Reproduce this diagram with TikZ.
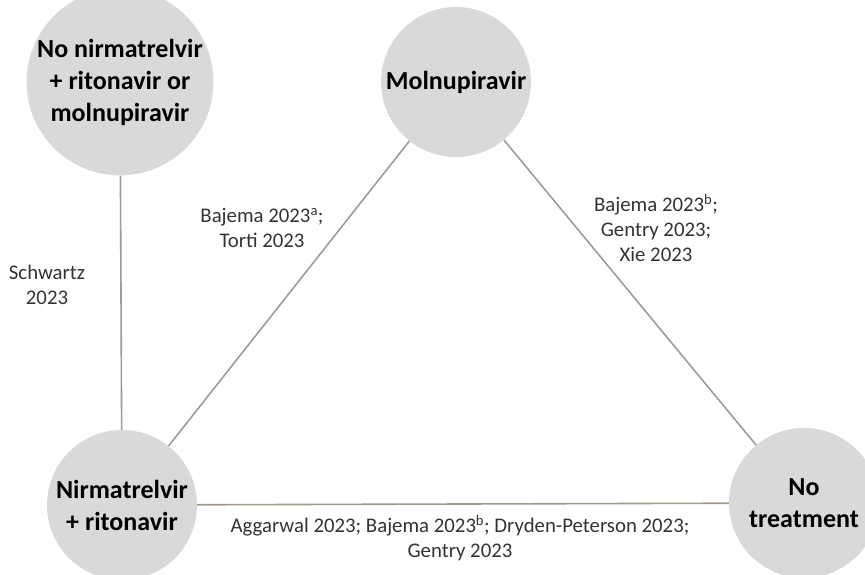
\documentclass[tikz,border=0pt]{standalone}
\usepackage{fontspec}
\setmainfont{Carlito}
\usepackage{tikz}
\usetikzlibrary{positioning}
\definecolor{circfill}{HTML}{D9D9D9}
\definecolor{linkcol}{HTML}{A39A8F}
\tikzset{
	trat/.style={circle, fill=circfill, minimum size=150pt, inner sep=0pt, align=center, font=\fontsize{26}{32}\selectfont\bfseries},
	enlace/.style={draw=linkcol, line width=1.6pt},
	cita/.style={align=center, font=\fontsize{20.8}{25}\selectfont, text=black!80}
}
\begin{document}
\begin{tikzpicture}[x=1pt,y=-1pt]
			
			% Marco
			\clip (0,0) rectangle (865,575);
			\useasboundingbox (0,0) rectangle (865,575);
			
			% Dibujar nodos
			\node[trat] (ninguno) at (120,82) {No nirmatrelvir\\+ ritonavir or\\molnupiravir};
			\node[trat] (molnu) at (456,82) {Molnupiravir};
			\node[trat] (nirma) at (122,505) {Nirmatrelvir\\+ ritonavir};
			\node[trat] (notrat) at (804,503) {No\\treatment};
			
			% Dibujar los enlaces
			\draw[enlace] (ninguno) -- (nirma);
			\draw[enlace] (molnu) -- (nirma);
			\draw[enlace] (molnu) -- (notrat);
			\draw[enlace] (nirma) -- (notrat);
			
			% Estudios
			\node[cita] (schwartz) at (47,285) {Schwartz\\2023};
			\node[cita] (bajemaA) at (262,228) {Bajema 2023\textsuperscript{a};\\Torti 2023};
			\node[cita] (bajemaB) at (656,228) {Bajema 2023\textsuperscript{b};\\Gentry 2023;\\Xie 2023};
			\node[cita] (aggarwal) at (460,538) {Aggarwal 2023; Bajema 2023\textsuperscript{b}; Dryden-Peterson 2023;\\Gentry 2023};
			
		\end{tikzpicture}
\end{document}
